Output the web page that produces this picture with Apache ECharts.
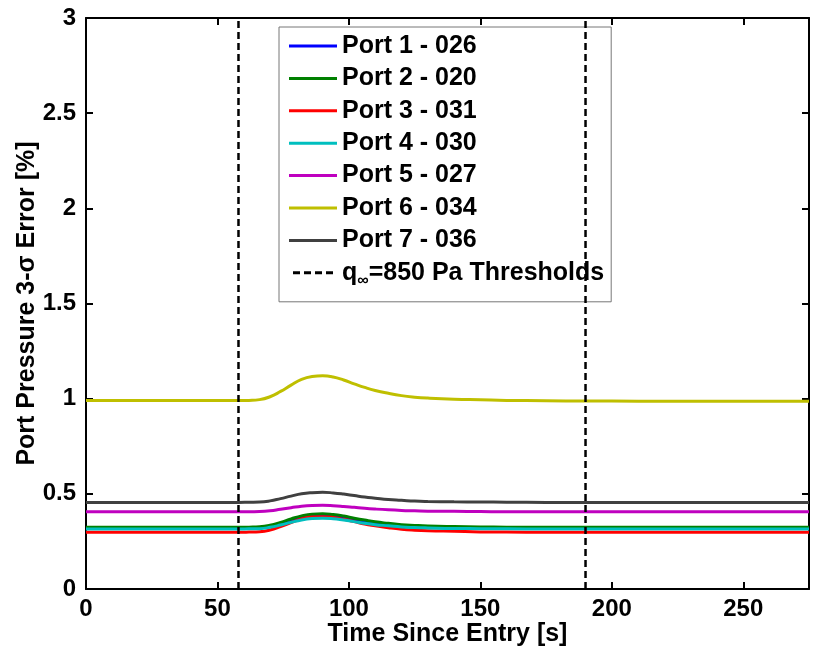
<!DOCTYPE html>
<html>
<head>
<meta charset="utf-8">
<script src="https://cdn.jsdelivr.net/npm/echarts@6/dist/echarts.min.js"></script>
<style>html,body{margin:0;padding:0;background:#fff;}#c{width:815px;height:657px;}</style>
</head>
<body>
<div id="c"></div>
<script>
// Time (s)
const time = [0, 20, 40, 58, 62, 66, 70, 74, 78, 82, 86, 90, 94, 98, 102, 106, 110, 115, 120, 125, 130, 140, 150, 160, 175, 190, 210, 230, 250, 275];
const port1 = [0.318,0.318,0.318,0.318,0.319,0.321,0.328,0.344,0.361,0.377,0.385,0.387,0.384,0.375,0.365,0.355,0.346,0.338,0.332,0.328,0.325,0.322,0.320,0.319,0.318,0.318,0.318,0.318,0.318,0.318];
const port2 = [0.324,0.324,0.324,0.324,0.325,0.327,0.335,0.350,0.368,0.384,0.393,0.395,0.391,0.383,0.372,0.362,0.353,0.345,0.338,0.334,0.331,0.328,0.326,0.325,0.324,0.324,0.324,0.324,0.324,0.324];
const port3 = [0.298,0.298,0.298,0.298,0.299,0.301,0.310,0.328,0.349,0.368,0.378,0.380,0.376,0.366,0.354,0.341,0.332,0.322,0.314,0.309,0.306,0.303,0.300,0.299,0.298,0.298,0.298,0.298,0.298,0.298];
const port4 = [0.315,0.315,0.315,0.315,0.316,0.317,0.324,0.336,0.350,0.363,0.370,0.372,0.369,0.362,0.354,0.345,0.338,0.332,0.326,0.323,0.321,0.318,0.317,0.316,0.315,0.315,0.315,0.315,0.315,0.315];
const port5 = [0.406,0.406,0.406,0.406,0.406,0.407,0.411,0.419,0.427,0.435,0.439,0.440,0.438,0.434,0.429,0.424,0.420,0.416,0.413,0.411,0.409,0.408,0.407,0.406,0.406,0.406,0.406,0.406,0.406,0.406];
const port6 = [0.990,0.990,0.990,0.990,0.991,0.995,1.010,1.038,1.071,1.101,1.116,1.120,1.114,1.098,1.078,1.059,1.043,1.028,1.016,1.008,1.003,0.997,0.994,0.991,0.989,0.988,0.987,0.986,0.986,0.986];
const port7 = [0.455,0.455,0.455,0.455,0.456,0.457,0.463,0.475,0.488,0.500,0.506,0.508,0.505,0.499,0.491,0.483,0.477,0.470,0.466,0.462,0.460,0.458,0.457,0.456,0.455,0.455,0.455,0.455,0.455,0.455];
const thresholdTimes = [58, 190];
const seriesNames = ['Port 1 - 026','Port 2 - 020','Port 3 - 031','Port 4 - 030','Port 5 - 027','Port 6 - 034','Port 7 - 036'];
const thresholdName = 'q∞=850 Pa Thresholds';
const colors = ['#0000ff','#008000','#ff0000','#00bfbf','#bf00bf','#bfbf00','#404040'];
const xTicks = [0, 50, 100, 150, 200, 250];
const yTicks = [0, 0.5, 1, 1.5, 2, 2.5, 3];

const portData = [port1, port2, port3, port4, port5, port6, port7];
const FONT = "'Liberation Sans', Arial, sans-serif";

const series = portData.map((d, i) => ({
  name: seriesNames[i],
  type: 'line',
  symbol: 'none',
  smooth: true,
  data: time.map((t, k) => [t, d[k]]),
  lineStyle: { color: colors[i], width: 3 },
  itemStyle: { color: colors[i] },
  emphasis: { disabled: true },
  z: 2 + i
}));
const thrData = [];
thresholdTimes.forEach((t, i) => {
  if (i > 0) thrData.push('-');
  thrData.push([t, yTicks[0]]);
  thrData.push([t, yTicks[yTicks.length - 1]]);
});
series.push({
  name: thresholdName,
  type: 'line',
  symbol: 'none',
  data: thrData,
  connectNulls: false,
  lineStyle: { color: '#000', width: 2.5, type: [7, 4] },
  itemStyle: { color: '#000' },
  emphasis: { disabled: true },
  z: 20
});

const dashIcon = 'path://M3,0h7v3h-7z M14,0h7v3h-7z M25,0h7v3h-7z M36,0h7v3h-7z';
const legendData = seriesNames.map((n, i) => ({ name: n, icon: 'rect', itemStyle: { color: colors[i] } }));
legendData.push({ name: thresholdName, icon: dashIcon, itemStyle: { color: '#000' } });

const axisCommon = {
  axisLine: { show: true, onZero: false, lineStyle: { color: '#000', width: 2 } },
  axisTick: { show: true, inside: true, length: 7, lineStyle: { color: '#000', width: 2 } },
  splitLine: { show: false }
};

const chart = echarts.init(document.getElementById('c'), null, { renderer: 'canvas' });
chart.setOption({
  animation: false,
  backgroundColor: '#fff',
  grid: { left: 86, right: 6, top: 18, bottom: 68, show: false },
  legend: {
    orient: 'vertical',
    left: 279,
    top: 27,
    data: legendData,
    backgroundColor: '#fff',
    borderColor: '#777',
    borderWidth: 1,
    borderRadius: 0,
    padding: [6, 7, 13, 10],
    itemGap: 6.4,
    itemWidth: 48,
    itemHeight: 3,
    textStyle: { fontFamily: FONT, fontWeight: 'bold', fontSize: 25, color: '#000', lineHeight: 26,
      rich: { sub: { fontFamily: FONT, fontWeight: 'bold', fontSize: 16, color: '#000', padding: [16, 0, 0, 0] } } },
    formatter: function (n) {
      if (n === thresholdName) return 'q{sub|∞}=850 Pa Thresholds';
      return n;
    },
    selectedMode: false
  },
  xAxis: [
    Object.assign({
      type: 'value', min: 0, max: 275, interval: 50,
      name: 'Time Since Entry [s]', nameLocation: 'middle', nameGap: 33, nameMoveOverlap: false,
      nameTextStyle: { fontFamily: FONT, fontWeight: 'bold', fontSize: 25, color: '#000' },
      axisLabel: { fontFamily: FONT, fontWeight: 'bold', fontSize: 24, color: '#000', margin: 8,
        formatter: v => xTicks.includes(v) ? String(v) : '' }
    }, axisCommon),
    Object.assign({
      type: 'value', min: 0, max: 275, interval: 50, position: 'top',
      axisLabel: { show: false }
    }, axisCommon)
  ],
  yAxis: [
    Object.assign({
      type: 'value', min: 0, max: 3, interval: 0.5,
      name: 'Port Pressure 3-σ Error [%]', nameLocation: 'middle', nameGap: 46, nameMoveOverlap: false,
      nameTextStyle: { fontFamily: FONT, fontWeight: 'bold', fontSize: 25, color: '#000' },
      axisLabel: { fontFamily: FONT, fontWeight: 'bold', fontSize: 24, color: '#000', margin: 10,
        formatter: v => yTicks.includes(v) ? String(v) : '' }
    }, axisCommon),
    Object.assign({
      type: 'value', min: 0, max: 3, interval: 0.5, position: 'right',
      axisLabel: { show: false }
    }, axisCommon)
  ],
  series: series
});
</script>
</body>
</html>
